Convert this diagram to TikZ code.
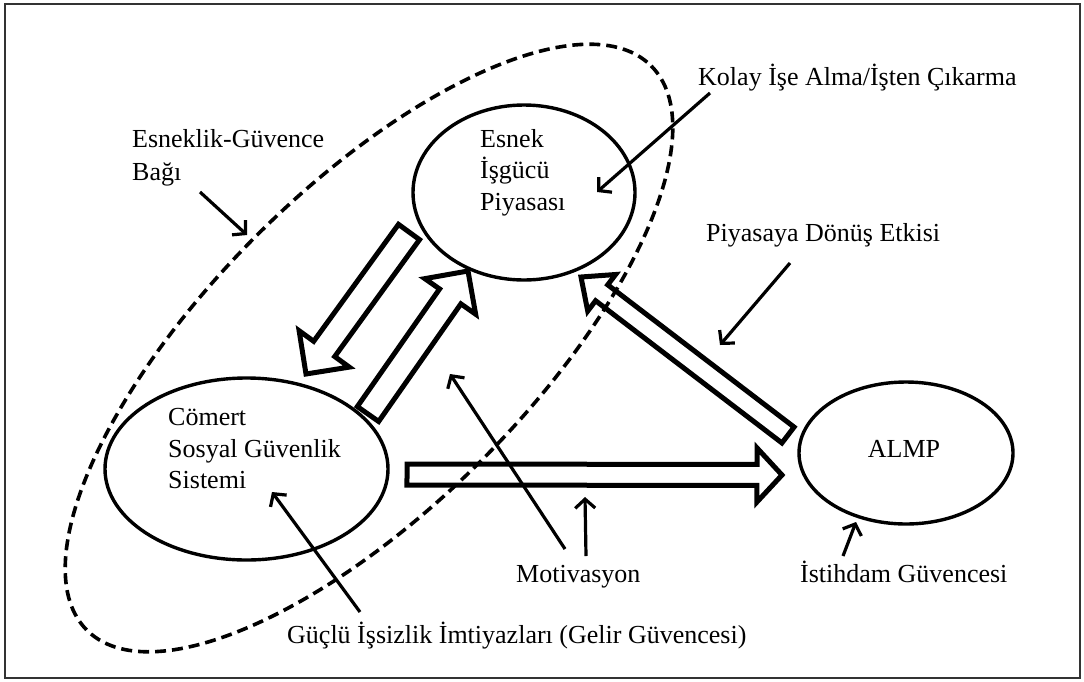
\documentclass[tikz,border=0pt]{standalone}
\usepackage{fontspec}
\setmainfont{Liberation Serif}
\usetikzlibrary{shapes.geometric,arrows.meta,calc}
\newcommand{\blockarr}[5]{%
  \coordinate (ba-t) at (#1);
  \coordinate (ba-h) at (#2);
  \coordinate (ba-b) at ($(ba-h)!#5!(ba-t)$);
  \draw[blk] ($(ba-t)!#3!90:(ba-h)$) -- ($(ba-b)!#3!90:(ba-h)$) -- ($(ba-b)!#4!90:(ba-h)$)
    -- (ba-h) -- ($(ba-b)!#4!-90:(ba-h)$) -- ($(ba-b)!#3!-90:(ba-h)$) -- ($(ba-t)!#3!-90:(ba-h)$) -- cycle;
}
\begin{document}
\begin{tikzpicture}[x=1pt,y=-1pt,
  every node/.style={font=\fontsize{26}{31}\selectfont, inner sep=0pt},
  oval/.style={draw, ellipse, line width=3.4pt, inner sep=0pt},
  lbl/.style={anchor=base west},
  ptr/.style={line width=3.2pt, -{Straight Barb[length=9pt,width=20pt]}},
  blk/.style={line width=5pt, line join=miter},
  dsh/.style={dash pattern=on 11pt off 6pt, line width=3.6pt}
]
\fill[white] (0,0) rectangle (1084,681);
\useasboundingbox (0,0) rectangle (1084,681);
\draw[line width=1.3pt, black!80] (5,4) rectangle (1080,678);

% dashed grouping ellipse
\draw[dsh, rotate around={45:(369,348)}] (369,348) ellipse [x radius=399, y radius=159];

% ovals
\node[oval, minimum width=222pt, minimum height=175pt] (esnek) at (524,192.5) {};
\node[oval, minimum width=283pt, minimum height=182pt] (comert) at (246.5,469) {};
\node[oval, minimum width=214pt, minimum height=142pt] (almp) at (906,453) {};

% texts
\node[lbl] (t1) at (480,147) {Esnek};
\node[lbl] (t2) at (480,178) {İşgücü};
\node[lbl] (t3) at (480,210) {Piyasası};
\node[lbl] (c1) at (168,425) {Cömert};
\node[lbl] (c2) at (168,457) {Sosyal Güvenlik};
\node[lbl] (c3) at (168,488) {Sistemi};
\node[anchor=base] (almptxt) at (904,457) {ALMP};
\node[lbl] (kolay) at (698,85) {Kolay İşe Alma/İşten Çıkarma};
\node[lbl] (esn1) at (132,147) {Esneklik-Güvence};
\node[lbl] (esn2) at (132,180) {Bağı};
\node[lbl] (piy) at (706,241) {Piyasaya Dönüş Etkisi};
\node[lbl] (mot) at (516,582) {Motivasyon};
\node[lbl] (ist) at (800,582) {İstihdam Güvencesi};
\node[lbl] (guc) at (287,643) {Güçlü İşsizlik İmtiyazları (Gelir Güvencesi)};

% block arrow ends
\coordinate (a1s) at (409,232); \coordinate (a1e) at (306,374);
\coordinate (a2s) at (368,414); \coordinate (a2e) at (468,271);
\coordinate (a3s) at (788,435); \coordinate (a3e) at (581,277);
\coordinate (a4s) at (407,474.5); \coordinate (a4e) at (782,475);
\blockarr{a1s}{a1e}{13pt}{31pt}{31pt}
\blockarr{a2s}{a2e}{13pt}{31pt}{31pt}
\blockarr{a3s}{a3e}{10pt}{23pt}{26pt}
\blockarr{a4s}{a4e}{10.5pt}{27pt}{25pt}

% pointer arrows
\coordinate (p1s) at (710,93);  \coordinate (p1e) at (597,192);
\coordinate (p2s) at (200,192); \coordinate (p2e) at (247,235);
\coordinate (p3s) at (790,263); \coordinate (p3e) at (720,345);
\coordinate (p4s) at (565,549); \coordinate (p4e) at (450,374);
\coordinate (p5s) at (586,556); \coordinate (p5e) at (585,497);
\coordinate (p6s) at (843,556); \coordinate (p6e) at (856,522);
\coordinate (p7s) at (360,612); \coordinate (p7e) at (272,492);
\foreach \i in {1,...,7} \draw[ptr] (p\i s) -- (p\i e);
\end{tikzpicture}
\end{document}
